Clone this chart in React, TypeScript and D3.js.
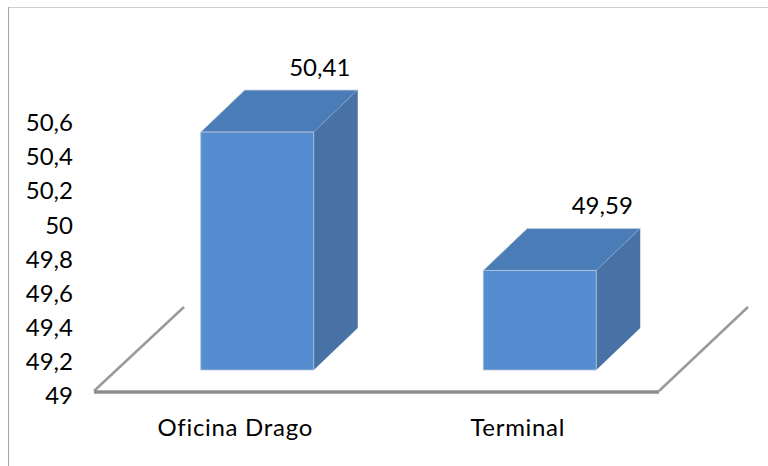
import React, { useEffect, useRef } from 'react';
import * as d3 from 'd3';

const categories = ['Oficina Drago', 'Terminal'];
const values = [50.41, 49.59];
const valueLabels = ['50,41', '49,59'];
const yTicks = [49, 49.2, 49.4, 49.6, 49.8, 50, 50.2, 50.4, 50.6];

const width = 768;
const height = 466;
const font = 'Lato, "Open Sans", sans-serif';
// offset of the back plane relative to the front plane
const depthX = 44;
const depthY = 42;

const App: React.FC = () => {
  const svgRef = useRef<SVGSVGElement | null>(null);

  useEffect(() => {
    const svg = d3.select(svgRef.current);
    svg.selectAll('*').remove();

    // chart frame
    svg.append('line').attr('x1', 8).attr('x2', width).attr('y1', 7.5).attr('y2', 7.5).attr('stroke', '#cfcfcf');
    svg.append('line').attr('x1', 8.5).attr('x2', 8.5).attr('y1', 7).attr('y2', height).attr('stroke', '#a6a6a6');

    const xScale = d3.scaleBand().domain(categories).range([94, 659]).paddingInner(0.6).paddingOuter(0.3);
    // tick labels sit lower than the bars because of the 3D projection
    const axisScale = d3.scaleLinear().domain([49, 50.6]).range([396, 123]);
    const barScale = d3.scaleLinear().domain([49, 50.6]).range([370, 100]);

    // floor
    const floorY = barScale(49) + 22;
    const floorL = xScale.range()[0];
    const floorR = xScale.range()[1];
    const floor = svg.append('g').attr('fill', 'none').attr('stroke', '#9a9a9a');
    floor.append('line').attr('x1', floorL).attr('y1', floorY - 1).attr('x2', floorL + 90).attr('y2', floorY - 85).attr('stroke-width', 2.5);
    floor.append('line').attr('x1', floorR).attr('y1', floorY - 1).attr('x2', floorR + 89).attr('y2', floorY - 85).attr('stroke-width', 2.5);
    floor.append('line').attr('x1', floorL).attr('x2', floorR).attr('y1', floorY).attr('y2', floorY).attr('stroke', '#8c8c8c').attr('stroke-width', 3.5);

    // bars
    const bars = svg.selectAll('g.bar').data(categories).enter().append('g').attr('class', 'bar');
    const bw = xScale.bandwidth();
    const bx = (d: string) => xScale(d)! + depthX / 2;
    const by = (i: number) => barScale(values[i]);
    const y0 = barScale(49);

    bars.append('path')
      .attr('fill', '#4a7cb8')
      .attr('stroke', '#c4cdd8')
      .attr('stroke-width', 0.8)
      .attr('d', (d, i) => `M${bx(d)},${by(i)}l${depthX},${-depthY}h${bw}l${-depthX},${depthY}Z`);
    bars.append('path')
      .attr('fill', '#4872a6')
      .attr('d', (d, i) => `M${bx(d) + bw},${by(i)}l${depthX},${-depthY}V${y0 - depthY}l${-depthX},${depthY}Z`);
    bars.append('rect')
      .attr('x', (d) => bx(d))
      .attr('y', (d, i) => by(i))
      .attr('width', bw)
      .attr('height', (d, i) => y0 - by(i))
      .attr('fill', '#558ed0')
      .attr('stroke', '#b4c2d4')
      .attr('stroke-width', 0.8);

    // value labels
    svg.selectAll('text.value').data(categories).enter().append('text')
      .attr('class', 'value')
      .attr('x', (d) => bx(d) + 119)
      .attr('y', (d, i) => by(i) - depthY - 14)
      .attr('text-anchor', 'middle')
      .attr('font-family', font)
      .attr('font-size', 24)
      .attr('fill', '#000')
      .text((d, i) => valueLabels[i]);

    // y axis labels
    const yAxis = d3.axisLeft(axisScale)
      .tickValues(yTicks)
      .tickSize(0)
      .tickPadding(0)
      .tickFormat((d) => String(d).replace('.', ','));
    const gy = svg.append('g').attr('transform', 'translate(73,0)').call(yAxis);
    gy.select('.domain').remove();
    gy.selectAll('text').attr('font-family', font).attr('font-size', 24).attr('fill', '#000');

    // category labels
    svg.selectAll('text.cat').data(categories).enter().append('text')
      .attr('class', 'cat')
      .attr('x', (d) => xScale(d)! + bw / 2)
      .attr('y', 436)
      .attr('text-anchor', 'middle')
      .attr('font-family', font)
      .attr('font-size', 24)
      .attr('letter-spacing', 0.7)
      .attr('fill', '#000')
      .text((d) => d);
  }, []);

  return <svg ref={svgRef} width={width} height={height} style={{ position: 'absolute', left: 0, top: 0 }}></svg>;
};

export default App;
